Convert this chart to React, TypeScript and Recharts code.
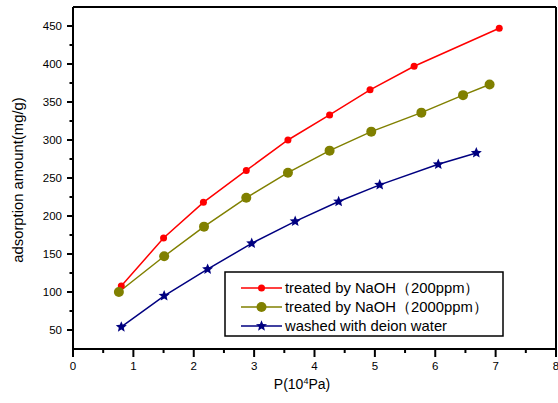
import React from 'react';
import { LineChart, Line, XAxis, YAxis, ReferenceLine, Customized } from 'recharts';

const redX = [0.8, 1.5, 2.16, 2.87, 3.56, 4.25, 4.92, 5.65, 7.06];
const redY = [108, 171, 218, 260, 300, 333, 366, 397, 447];
const oliveX = [0.76, 1.51, 2.17, 2.87, 3.56, 4.25, 4.94, 5.77, 6.46, 6.9];
const oliveY = [100, 147, 186, 224, 257, 286, 311, 336, 359, 373];
const blueX = [0.8, 1.51, 2.23, 2.96, 3.68, 4.4, 5.08, 6.05, 6.68];
const blueY = [54, 95, 130, 164, 193, 219, 241, 268, 283];

const seriesNames = [
  'treated by NaOH（200ppm）',
  'treated by NaOH（2000ppm）',
  'washed with deion water',
];
const seriesColors = ['#ff0000', '#808000', '#000080'];

const xTicks = [0, 0.5, 1, 1.5, 2, 2.5, 3, 3.5, 4, 4.5, 5, 5.5, 6, 6.5, 7, 7.5, 8];
const yTicks = [50, 75, 100, 125, 150, 175, 200, 225, 250, 275, 300, 325, 350, 375, 400, 425, 450];
const xTitle = 'P(10';
const xTitleSup = '4';
const xTitleEnd = 'Pa)';
const yTitle = 'adsorption amount(mg/g)';

const zip = (xs: number[], ys: number[]) => xs.map((x, i) => ({ x, y: ys[i] }));
const redData = zip(redX, redY);
const oliveData = zip(oliveX, oliveY);
const blueData = zip(blueX, blueY);

const FONT = '"Liberation Sans", Arial, sans-serif';

const starPath = (cx: number, cy: number, R: number) => {
  const r = R * 0.45;
  let d = '';
  for (let i = 0; i < 10; i++) {
    const rad = i % 2 === 0 ? R : r;
    const a = -Math.PI / 2 + (i * Math.PI) / 5;
    d += (i === 0 ? 'M' : 'L') + (cx + rad * Math.cos(a)).toFixed(2) + ',' + (cy + rad * Math.sin(a)).toFixed(2);
  }
  return d + 'Z';
};

const marker = (idx: number, cx: number, cy: number, key?: any) => {
  if (idx === 0) return <circle key={key} cx={cx} cy={cy} r={3.5} fill={seriesColors[0]} />;
  if (idx === 1) return <circle key={key} cx={cx} cy={cy} r={5} fill={seriesColors[1]} />;
  return <path key={key} d={starPath(cx, cy, 5.8)} fill={seriesColors[2]} />;
};

const makeDot = (idx: number) => (p: any) => marker(idx, p.cx, p.cy, p.key ?? `${idx}-${p.index}`);

const XTick = (p: any) => {
  const { x, y, payload } = p;
  const major = Number.isInteger(payload.value);
  return (
    <g>
      <line x1={x} x2={x} y1={y} y2={y + (major ? 8 : 4)} stroke="#000" strokeWidth={2} />
      {major && (
        <text x={x} y={y + 21} textAnchor="middle" fontSize={11.5} fontFamily={FONT} fill="#000">
          {payload.value}
        </text>
      )}
    </g>
  );
};

const YTick = (p: any) => {
  const { x, y, payload } = p;
  const major = payload.value % 50 === 0;
  return (
    <g>
      <line x1={x - (major ? 6 : 3.5)} x2={x} y1={y} y2={y} stroke="#000" strokeWidth={2} />
      {major && (
        <text x={x - 11} y={y + 4} textAnchor="end" fontSize={11.5} fontFamily={FONT} fill="#000">
          {payload.value}
        </text>
      )}
    </g>
  );
};

const Decor = () => {
  const rows = [288, 307, 326];
  return (
    <g>
      <text x={18} y={180} transform="rotate(-90 18 180)" textAnchor="middle" dominantBaseline="central" fontSize={14.8} fontFamily={FONT} fill="#000">
        {yTitle}
      </text>
      <text x={302} y={389} textAnchor="middle" fontSize={14} fontFamily={FONT} fill="#000">
        <tspan>{xTitle}</tspan>
        <tspan dy={-5} fontSize={9}>{xTitleSup}</tspan>
        <tspan dy={5}>{xTitleEnd}</tspan>
      </text>
      <rect x={225} y={272} width={278} height={64} fill="#fff" stroke="#000" strokeWidth={1.5} />
      {seriesNames.map((name, i) => (
        <g key={name}>
          <line x1={241} x2={282} y1={rows[i]} y2={rows[i]} stroke={seriesColors[i]} strokeWidth={1.5} />
          {marker(i, 261.5, rows[i])}
          <text x={285} y={rows[i] + 5} fontSize={14.8} fontFamily={FONT} fill="#000">
            {name}
          </text>
        </g>
      ))}
    </g>
  );
};

export default function App() {
  return (
    <div style={{ position: 'absolute', left: 0, top: 0, width: 558, height: 403, background: '#fff' }}>
      <LineChart width={558} height={403} margin={{ top: 7, right: 2, bottom: 0, left: 0 }}>
        <XAxis
          type="number"
          dataKey="x"
          domain={[0, 8]}
          ticks={xTicks}
          interval={0}
          allowDataOverflow
          height={54}
          tickLine={false}
          tickSize={0}
          tickMargin={0}
          tick={<XTick />}
          axisLine={{ stroke: '#000', strokeWidth: 2 }}
        />
        <YAxis
          type="number"
          dataKey="y"
          domain={[25, 475]}
          ticks={yTicks}
          interval={0}
          allowDataOverflow
          width={73}
          tickLine={false}
          tickSize={0}
          tickMargin={0}
          tick={<YTick />}
          axisLine={{ stroke: '#000', strokeWidth: 2 }}
        />
        <ReferenceLine y={475} stroke="#000" strokeWidth={2} />
        <ReferenceLine x={8} stroke="#000" strokeWidth={2} />
        <Line data={redData} dataKey="y" stroke={seriesColors[0]} strokeWidth={1.5} dot={makeDot(0)} isAnimationActive={false} />
        <Line data={oliveData} dataKey="y" stroke={seriesColors[1]} strokeWidth={1.5} dot={makeDot(1)} isAnimationActive={false} />
        <Line data={blueData} dataKey="y" stroke={seriesColors[2]} strokeWidth={1.5} dot={makeDot(2)} isAnimationActive={false} />
        <Customized component={Decor} />
      </LineChart>
    </div>
  );
}
